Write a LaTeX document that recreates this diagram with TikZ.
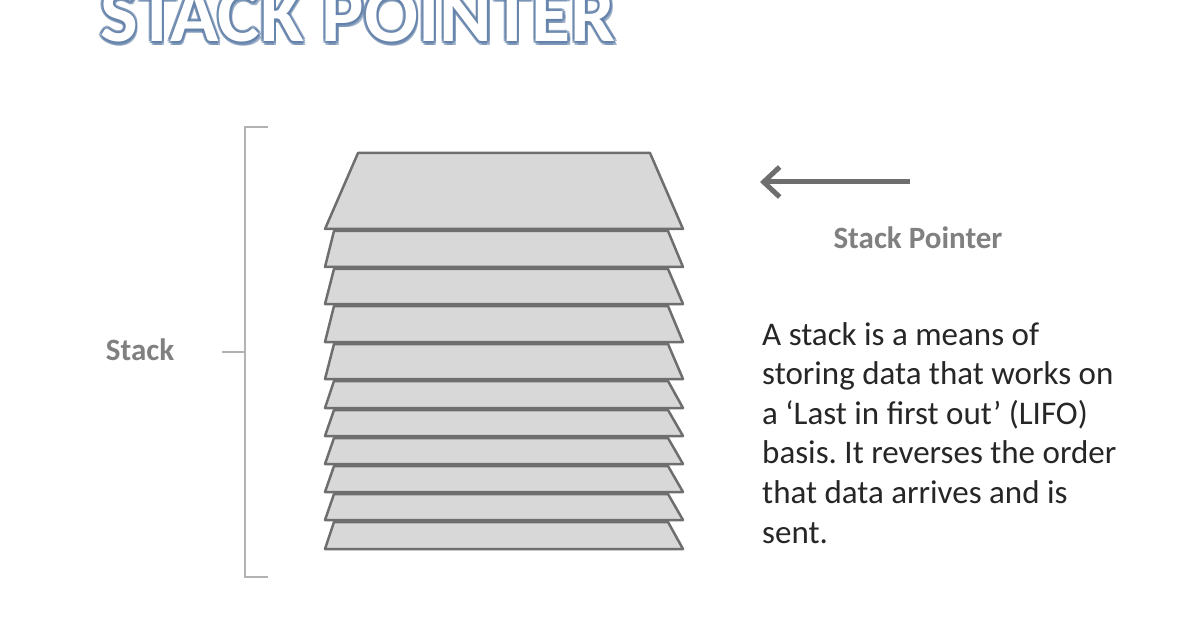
\documentclass[tikz,border=0pt]{standalone}
\usepackage{fontspec}
\setmainfont{Carlito}
\usetikzlibrary{arrows.meta}
\definecolor{edge}{RGB}{110,110,110}
\definecolor{layer}{RGB}{216,216,216}
\definecolor{lbl}{RGB}{128,128,128}
\definecolor{glow}{RGB}{100,130,170}
\frenchspacing
\begin{document}
\begin{tikzpicture}[x=1pt,y=-1pt,
  lay/.style={draw=edge,fill=layer,line width=2.5pt,line join=round},
  gray txt/.style={text=lbl,font=\fontsize{31}{35}\selectfont\bfseries,inner sep=0pt},
  brk/.style={draw=black!30,line width=2.5pt}]
\useasboundingbox (0,0) rectangle (1196,628);
\fill[white] (0,0) rectangle (1196,628);
% title
\def\ttl{\resizebox{515pt}{!}{\bfseries STACK POINTER}}
\foreach \dx/\dy in {-2.5/0,2.5/0,0/2.5,0/-2.5,-2/2,2/2,-2/-2,2/-2,0/4,2.5/4}
  \node[anchor=south west,inner sep=0pt,text=glow,opacity=0.6] at (100+\dx,42+\dy) {\ttl};
\node[anchor=south west,inner sep=0pt,text=white] (title) at (100,42) {\ttl};
% layers
\path[lay] (325,229) -- (683,229) -- (650,153) -- (358,153) -- cycle;
\foreach \t/\b [count=\i] in {231/267,269/304,306/342,344/379,381/408,410/436,438/464,466/492,494/520,522/549}
  \path[lay] (325,\b) -- (683,\b) -- (668,\t) -- (334,\t) -- cycle;
% bracket
\draw[brk] (268,127) -- (245,127) -- (245,577) -- (268,577);
\coordinate (tick) at (222,352);
\draw[brk] (tick) -- (245,352);
\node[gray txt] (stack) at (140,350) {Stack};
% arrow
\coordinate (ps) at (910,182);
\coordinate (pe) at (760,182);
\draw[edge,line width=5pt,-{Straight Barb[length=16pt,width=30pt,line width=5pt]}] (ps) -- (pe);
\node[gray txt] (sp) at (918,238) {Stack Pointer};
\node[anchor=north west,align=left,inner sep=0pt,text=black!85,
  font=\fontsize{33}{39.6}\selectfont] (desc) at (762,322)
  {A stack is a means of\\storing data that works on\\a ‘Last in first out’ (LIFO)\\basis. It reverses the order\\that data arrives and is\\sent.};
\end{tikzpicture}
\end{document}
